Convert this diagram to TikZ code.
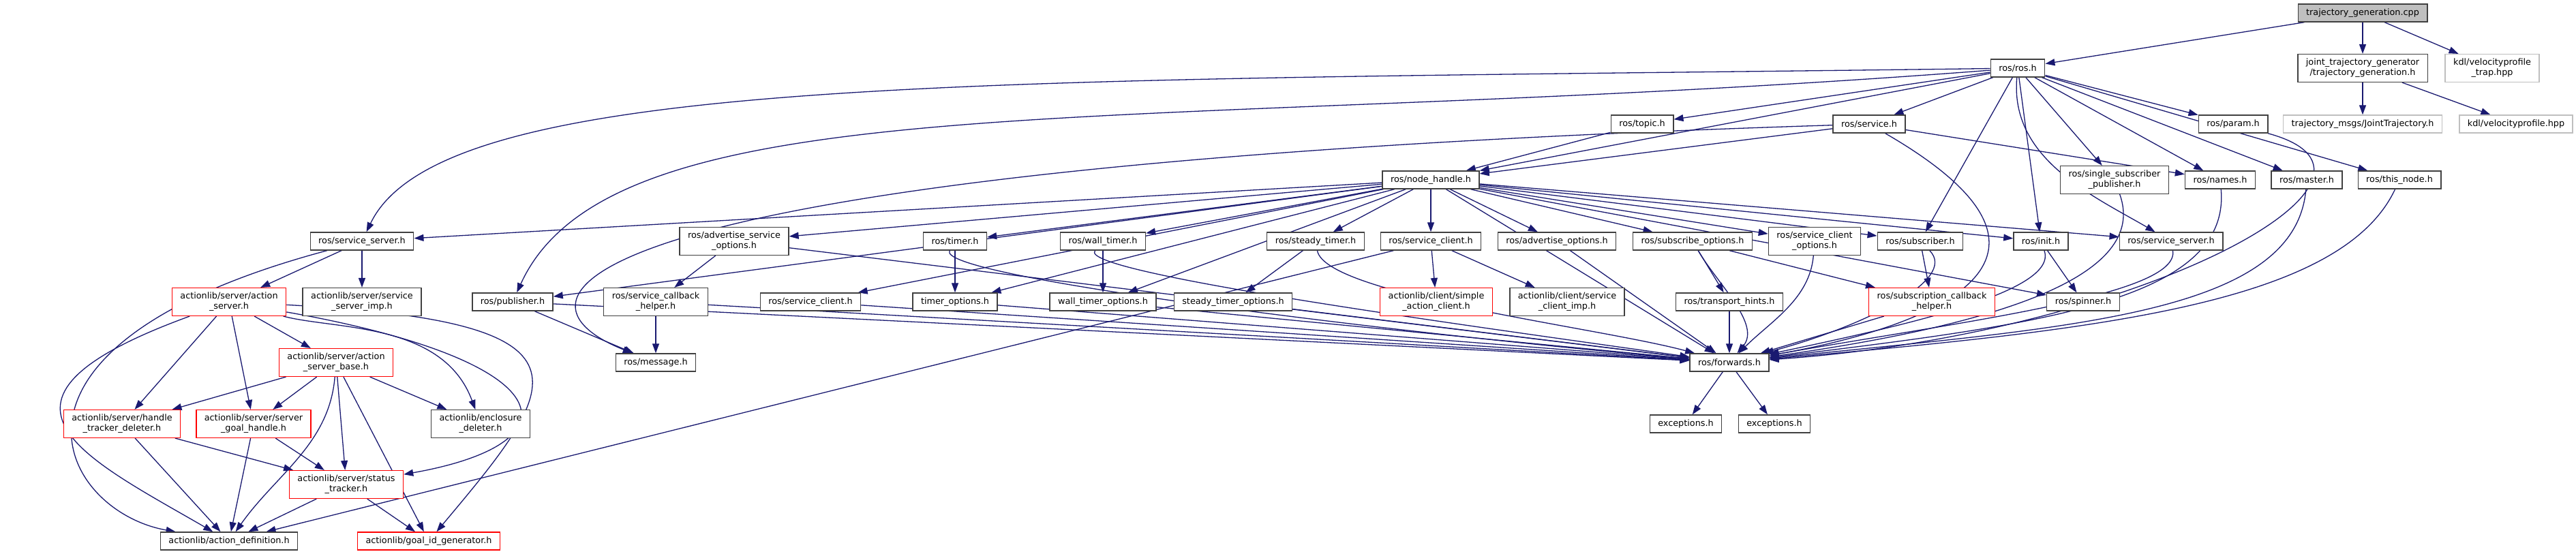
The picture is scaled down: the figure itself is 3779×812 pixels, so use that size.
\documentclass[tikz,border=0pt]{standalone}
\usepackage{fontspec}
\setmainfont{DejaVu Sans}
\usetikzlibrary{arrows.meta,backgrounds}
\definecolor{edgeblue}{HTML}{191970}
\definecolor{boxgrey}{HTML}{404040}
\definecolor{lightgrey}{HTML}{BFBFBF}
\definecolor{incred}{HTML}{FF0000}

\begin{document}
\begin{tikzpicture}[x=1pt,y=1pt,
    font=\fontsize{12.8}{15}\selectfont,
    file/.style={draw=boxgrey,line width=1.4pt,fill=white,align=center,
      inner xsep=12pt,inner ysep=6.5pt,minimum height=26pt},
    redfile/.style={file,draw=incred},
    extfile/.style={file,draw=lightgrey},
    rootfile/.style={file,fill=lightgrey}]
  \useasboundingbox (0,0) rectangle (3779,-812);
  \draw
    (3466,-19) node[rootfile] (cpp){trajectory\_generation.cpp}
    (3466,-100) node[file] (tgh){joint\_trajectory\_generator\\/trajectory\_generation.h}
    (3656,-100) node[extfile] (veltrap){kdl/velocityprofile\\\_trap.hpp}
    (2960,-100) node[file] (rosh){ros/ros.h}
    (2409,-182) node[file] (topic){ros/topic.h}
    (2742,-182) node[file] (service){ros/service.h}
    (3276,-182) node[file] (param){ros/param.h}
    (3466,-182) node[extfile] (jointtraj){trajectory\_msgs/JointTrajectory.h}
    (3691,-182) node[extfile] (velprof){kdl/velocityprofile.hpp}
    (2099,-264) node[file] (nodehandle){ros/node\_handle.h}
    (3102,-264) node[file] (singlesub){ros/single\_subscriber\\\_publisher.h}
    (3257,-264) node[file] (names){ros/names.h}
    (3384,-264) node[file] (master){ros/master.h}
    (3520,-264) node[file] (thisnode){ros/this\_node.h}
    (531,-354) node[file] (srvserverL){ros/service\_server.h}
    (1077,-354) node[file] (advsrvopt){ros/advertise\_service\\\_options.h}
    (1401,-354) node[file] (timer){ros/timer.h}
    (1618,-354) node[file] (walltimer){ros/wall\_timer.h}
    (1930,-354) node[file] (steadytimer){ros/steady\_timer.h}
    (2099,-354) node[file] (srvclientA){ros/service\_client.h}
    (2284,-354) node[file] (advopt){ros/advertise\_options.h}
    (2483,-354) node[file] (subopt){ros/subscribe\_options.h}
    (2662,-354) node[file] (srvclientopt){ros/service\_client\\\_options.h}
    (2817,-354) node[file] (subscriber){ros/subscriber.h}
    (2994,-354) node[file] (init){ros/init.h}
    (3185,-354) node[file] (srvserverR){ros/service\_server.h}
    (336,-443) node[redfile] (actserver){actionlib/server/action\\\_server.h}
    (531,-443) node[file] (srvserverimp){actionlib/server/service\\\_server\_imp.h}
    (752,-443) node[file] (publisher){ros/publisher.h}
    (962,-443) node[file] (srvcbhelper){ros/service\_callback\\\_helper.h}
    (1189,-443) node[file] (srvclient){ros/service\_client.h}
    (1401,-443) node[file] (timeropt){timer\_options.h}
    (1618,-443) node[file] (walltimeropt){wall\_timer\_options.h}
    (1809,-443) node[file] (steadytimeropt){steady\_timer\_options.h}
    (2107,-443) node[redfile] (simpleclient){actionlib/client/simple\\\_action\_client.h}
    (2299,-443) node[file] (srvclientimp){actionlib/client/service\\\_client\_imp.h}
    (2537,-443) node[file] (hints){ros/transport\_hints.h}
    (2834,-443) node[redfile] (subcbhelper){ros/subscription\_callback\\\_helper.h}
    (3056,-443) node[file] (spinner){ros/spinner.h}
    (493,-532) node[redfile] (actserverbase){actionlib/server/action\\\_server\_base.h}
    (962,-532) node[file] (message){ros/message.h}
    (2537,-532) node[file] (forwards){ros/forwards.h}
    (179,-622) node[redfile] (htdeleter){actionlib/server/handle\\\_tracker\_deleter.h}
    (372,-622) node[redfile] (goalhandle){actionlib/server/server\\\_goal\_handle.h}
    (705,-622) node[file] (enclosure){actionlib/enclosure\\\_deleter.h}
    (2473,-622) node[file] (exc1){exceptions.h}
    (2603,-622) node[file] (exc2){exceptions.h}
    (508,-711) node[redfile] (status){actionlib/server/status\\\_tracker.h}
    (336,-794) node[file] (actiondef){actionlib/action\_definition.h}
    (629,-794) node[redfile] (goalid){actionlib/goal\_id\_generator.h};
  \begin{scope}[on background layer={edgeblue,line width=1.3pt,
      -{Triangle[length=14pt,width=10pt]}}]
    \draw (cpp) to (rosh);
    \draw (cpp) to (tgh);
    \draw (cpp) to (veltrap);
    \draw (tgh) to (jointtraj);
    \draw (tgh) to (velprof);
    \draw (rosh) .. controls +(-1500,-20) and +(120,250) .. (srvserverL);
    \draw (rosh) .. controls +(-1300,-100) and +(150,330) .. (publisher);
    \draw (rosh) to (nodehandle);
    \draw (rosh) to (topic);
    \draw (rosh) to (service);
    \draw (rosh) to (subscriber);
    \draw (rosh) to (init);
    \draw (rosh) .. controls +(-12,-133) and +(-115,67) .. (srvserverR);
    \draw (rosh) to (singlesub);
    \draw (rosh) to (names);
    \draw (rosh) to (master);
    \draw (rosh) to (thisnode);
    \draw (rosh) to (param);
    \draw (topic) to (nodehandle);
    \draw (service) to (nodehandle);
    \draw (service) to (names);
    \draw (service) .. controls +(-1900,-60) and +(-250,100) .. (message);
    \draw (service) .. controls +(346,-200) and +(295,52) .. (forwards);
    \draw (nodehandle) to (srvserverL);
    \draw (nodehandle) to (advsrvopt);
    \draw (nodehandle) to (publisher);
    \draw (nodehandle) to (timer);
    \draw (nodehandle) to (walltimer);
    \draw (nodehandle) to (steadytimer);
    \draw (nodehandle) to (srvclientA);
    \draw (nodehandle) to (advopt);
    \draw (nodehandle) to (subopt);
    \draw (nodehandle) to (srvclientopt);
    \draw (nodehandle) to (subscriber);
    \draw (nodehandle) to (init);
    \draw (nodehandle) to (srvserverR);
    \draw (nodehandle) to (spinner);
    \draw (nodehandle) to (timeropt);
    \draw (nodehandle) to (walltimeropt);
    \draw (nodehandle) to (srvclient);
    \draw (nodehandle) to (forwards);
    \draw (advsrvopt) to (srvcbhelper);
    \draw (advsrvopt) to (forwards);
    \draw (srvcbhelper) to (message);
    \draw (srvcbhelper) to (forwards);
    \draw (publisher) to (message);
    \draw (publisher) to (forwards);
    \draw (srvclient) to (forwards);
    \draw (timer) to (timeropt);
    \draw (timer) .. controls +(-30,-52) and +(-498,44) .. (forwards);
    \draw (walltimer) to (walltimeropt);
    \draw (walltimer) .. controls +(-39,-46) and +(-396,56) .. (forwards);
    \draw (steadytimer) to (steadytimeropt);
    \draw (steadytimer) .. controls +(14,-79) and +(-193,52) .. (forwards);
    \draw (timeropt) to (forwards);
    \draw (walltimeropt) to (forwards);
    \draw (steadytimeropt) to (forwards);
    \draw (srvclientA) to (simpleclient);
    \draw (srvclientA) to (srvclientimp);
    \draw (srvclientA) to (actiondef);
    \draw (advopt) to (forwards);
    \draw (subopt) to (hints);
    \draw (subopt) to (subcbhelper);
    \draw (subopt) .. controls +(37,-63) and +(47,56) .. (forwards);
    \draw (hints) to (forwards);
    \draw (srvclientopt) .. controls +(-7,-85) and +(60,60) .. (forwards);
    \draw (subscriber) to (subcbhelper);
    \draw (subscriber) .. controls +(57,-57) and +(193,52) .. (forwards);
    \draw (subcbhelper) to (forwards);
    \draw (init) to (spinner);
    \draw (init) .. controls +(27,-75) and +(245,52) .. (forwards);
    \draw (srvserverR) .. controls +(14,-79) and +(345,61) .. (forwards);
    \draw (singlesub) .. controls +(51,-141) and +(396,56) .. (forwards);
    \draw (names) .. controls +(16,-179) and +(447,55) .. (forwards);
    \draw (master) .. controls +(-17,-199) and +(497,52) .. (forwards);
    \draw (thisnode) .. controls +(-85,-181) and +(548,48) .. (forwards);
    \draw (param) .. controls +(290,-78) and +(599,42) .. (forwards);
    \draw (forwards) to (exc1);
    \draw (forwards) to (exc2);
    \draw (srvserverL) to (actserver);
    \draw (srvserverL) to (srvserverimp);
    \draw (srvserverL) .. controls +(-580,-155) and +(-246,43) .. (actiondef);
    \draw (actserver) .. controls +(-395,-144) and +(-216,125) .. (actiondef);
    \draw (actserver) to (htdeleter);
    \draw (actserver) to (goalhandle);
    \draw (actserver) to (actserverbase);
    \draw (actserver) .. controls +(155,-41) and +(-55,150) .. (enclosure);
    \draw (actserver) .. controls +(492,-87) and +(345,61) .. (status);
    \draw (actserver) .. controls +(559,-29) and +(193,230) .. (goalid);
    \draw (actserverbase) to (htdeleter);
    \draw (actserverbase) to (goalhandle);
    \draw (actserverbase) .. controls +(-10,-120) and +(69,98) .. (actiondef);
    \draw (actserverbase) to (status);
    \draw (actserverbase) to (goalid);
    \draw (actserverbase) to (enclosure);
    \draw (htdeleter) to (actiondef);
    \draw (htdeleter) to (status);
    \draw (goalhandle) to (actiondef);
    \draw (goalhandle) to (status);
    \draw (status) to (actiondef);
    \draw (status) to (goalid);
  \end{scope}
\end{tikzpicture}
\end{document}
